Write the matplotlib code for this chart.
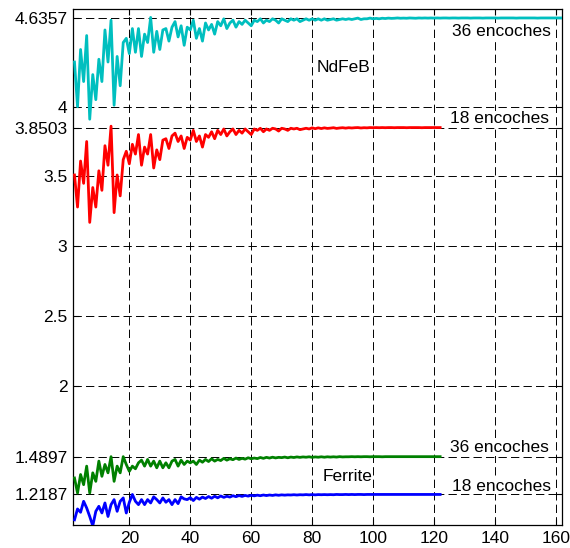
import numpy as np
import matplotlib
matplotlib.use("Agg")
import matplotlib.pyplot as plt

plt.rcParams['font.family'] = ['Liberation Sans', 'DejaVu Sans']
plt.rcParams['lines.scale_dashes'] = False

# NdFeB, 36 encoches (x = 2 .. 162)
ndfeb_36 = [
    4.32, 4.00, 4.41, 4.18, 4.51, 3.91, 4.23, 4.05, 4.34, 4.18,
    4.55, 4.32, 4.62, 4.01, 4.36, 4.15, 4.46, 4.49, 4.38, 4.56,
    4.39, 4.56, 4.36, 4.52, 4.46, 4.64, 4.39, 4.54, 4.41, 4.55,
    4.56, 4.47, 4.57, 4.61, 4.50, 4.58, 4.44, 4.57, 4.55, 4.62,
    4.49, 4.56, 4.47, 4.60, 4.55, 4.59, 4.52, 4.61, 4.58, 4.63,
    4.56, 4.60, 4.62, 4.57, 4.61, 4.59, 4.62, 4.60, 4.58, 4.62,
    4.61, 4.63, 4.60, 4.62, 4.61, 4.63, 4.62, 4.60, 4.63, 4.62,
    4.61, 4.63, 4.62, 4.63, 4.61, 4.62, 4.63, 4.62, 4.63, 4.62,
    4.63, 4.62, 4.63, 4.62, 4.625, 4.63, 4.62, 4.625, 4.63, 4.625,
    4.63, 4.625, 4.63, 4.635, 4.625, 4.63, 4.63, 4.635, 4.63, 4.633,
    4.630, 4.634, 4.632, 4.635, 4.633, 4.634, 4.636, 4.634, 4.635, 4.634,
    4.636, 4.635, 4.634, 4.636, 4.635, 4.636, 4.635, 4.636, 4.635, 4.636,
    4.635, 4.636, 4.636, 4.635, 4.636, 4.636, 4.635, 4.636, 4.636, 4.636,
    4.635, 4.636, 4.636, 4.636, 4.635, 4.636, 4.636, 4.636, 4.636, 4.635,
    4.636, 4.636, 4.636, 4.636, 4.636, 4.635, 4.636, 4.636, 4.636, 4.636,
    4.636, 4.636, 4.635, 4.636, 4.636, 4.636, 4.636, 4.636, 4.636, 4.636, 4.636,
]

# NdFeB, 18 encoches (x = 2 .. 122)
ndfeb_18 = [
    3.51, 3.28, 3.61, 3.45, 3.75, 3.17, 3.42, 3.28, 3.54, 3.40,
    3.72, 3.58, 3.86, 3.24, 3.51, 3.36, 3.62, 3.68, 3.59, 3.73,
    3.66, 3.80, 3.58, 3.71, 3.66, 3.80, 3.56, 3.69, 3.62, 3.76,
    3.77, 3.70, 3.79, 3.81, 3.75, 3.79, 3.70, 3.78, 3.76, 3.83,
    3.75, 3.79, 3.71, 3.80, 3.78, 3.82, 3.77, 3.83, 3.80, 3.84,
    3.79, 3.82, 3.84, 3.80, 3.83, 3.81, 3.84, 3.82, 3.80, 3.84,
    3.83, 3.845, 3.82, 3.84, 3.83, 3.845, 3.84, 3.825, 3.845, 3.84,
    3.83, 3.845, 3.84, 3.845, 3.835, 3.84, 3.845, 3.84, 3.848, 3.842,
    3.848, 3.843, 3.848, 3.844, 3.846, 3.849, 3.844, 3.847, 3.849, 3.846,
    3.849, 3.847, 3.849, 3.850, 3.847, 3.849, 3.848, 3.850, 3.849, 3.850,
    3.849, 3.850, 3.849, 3.850, 3.850, 3.849, 3.850, 3.850, 3.850, 3.849,
    3.850, 3.850, 3.850, 3.850, 3.849, 3.850, 3.850, 3.850, 3.850, 3.850, 3.850,
]

# Ferrite, 36 encoches (x = 2 .. 122)
ferrite_36 = [
    1.337, 1.229, 1.362, 1.289, 1.422, 1.229, 1.374, 1.313, 1.458, 1.349,
    1.434, 1.374, 1.490, 1.313, 1.422, 1.374, 1.490, 1.434, 1.385, 1.422,
    1.403, 1.446, 1.465, 1.422, 1.470, 1.422, 1.458, 1.410, 1.458, 1.410,
    1.446, 1.410, 1.458, 1.470, 1.422, 1.465, 1.434, 1.458, 1.446, 1.458,
    1.434, 1.465, 1.450, 1.470, 1.455, 1.475, 1.458, 1.470, 1.462, 1.478,
    1.465, 1.475, 1.468, 1.480, 1.470, 1.478, 1.472, 1.482, 1.475, 1.480,
    1.476, 1.484, 1.478, 1.485, 1.480, 1.486, 1.481, 1.485, 1.483, 1.487,
    1.482, 1.487, 1.484, 1.488, 1.485, 1.488, 1.486, 1.489, 1.485, 1.488,
    1.486, 1.489, 1.486, 1.489, 1.487, 1.489, 1.487, 1.490, 1.488, 1.489,
    1.489, 1.490, 1.489, 1.490, 1.489, 1.490, 1.490, 1.489, 1.490, 1.490,
    1.490, 1.489, 1.490, 1.490, 1.490, 1.490, 1.490, 1.490, 1.490, 1.490,
    1.490, 1.490, 1.490, 1.490, 1.490, 1.490, 1.490, 1.490, 1.490, 1.490, 1.490,
]

# Ferrite, 18 encoches (x = 2 .. 122)
ferrite_18 = [
    1.037, 1.115, 1.091, 1.170, 1.122, 1.061, 0.994, 1.098, 1.134, 1.086,
    1.158, 1.061, 1.146, 1.182, 1.098, 1.170, 1.194, 1.086, 1.163, 1.219,
    1.170, 1.146, 1.182, 1.146, 1.182, 1.158, 1.202, 1.182, 1.158, 1.194,
    1.163, 1.182, 1.146, 1.182, 1.153, 1.202, 1.187, 1.182, 1.196, 1.175,
    1.198, 1.185, 1.200, 1.190, 1.204, 1.192, 1.206, 1.195, 1.208, 1.198,
    1.206, 1.200, 1.210, 1.203, 1.211, 1.205, 1.212, 1.207, 1.213, 1.209,
    1.214, 1.210, 1.215, 1.211, 1.215, 1.212, 1.216, 1.213, 1.216, 1.214,
    1.216, 1.215, 1.217, 1.215, 1.217, 1.216, 1.218, 1.216, 1.218, 1.216,
    1.218, 1.217, 1.218, 1.217, 1.218, 1.217, 1.219, 1.218, 1.218, 1.219,
    1.218, 1.219, 1.218, 1.219, 1.219, 1.218, 1.219, 1.219, 1.219, 1.219,
    1.219, 1.219, 1.219, 1.219, 1.219, 1.219, 1.219, 1.219, 1.219, 1.219,
    1.219, 1.219, 1.219, 1.219, 1.219, 1.219, 1.219, 1.219, 1.219, 1.219, 1.219,
]

ytick_values = [1.2187, 1.4897, 2, 2.5, 3, 3.5, 3.8503, 4, 4.6357]
ytick_labels = ['1.2187', '1.4897', '2', '2.5', '3', '3.5', '3.8503', '4', '4.6357']
xtick_values = [20, 40, 60, 80, 100, 120, 140, 160]

fig = plt.figure(figsize=(5.70, 5.48), dpi=100)
ax = fig.add_axes([0.128, 0.042, 0.858, 0.9415])

series = [
    (ndfeb_36, '#00BFBF'),
    (ndfeb_18, '#FF0000'),
    (ferrite_36, '#008000'),
    (ferrite_18, '#0000FF'),
]
for vals, col in series:
    x = np.arange(2, 2 + len(vals))
    ax.plot(x, vals, color=col, linewidth=2.0, zorder=3)

ax.set_xlim(1.5, 162)
ax.set_ylim(1.0, 4.7)
ax.set_xticks(xtick_values)
ax.set_yticks(ytick_values)
ax.set_yticklabels(ytick_labels)
ax.tick_params(direction='in', top=True, right=True, length=4, width=0.8,
               labelsize=12.5, pad=4)
ax.grid(True, color='k', linestyle=(0, (6, 3)), linewidth=0.7)
ax.set_axisbelow(True)
for s in ax.spines.values():
    s.set_linewidth(0.9)

# labels with white boxes, like the original
box = dict(facecolor='white', edgecolor='none', pad=0.5)
ax.text(125.8, 4.54, '36 encoches', fontsize=12.5, va='center', bbox=box, zorder=4)
ax.text(81.5, 4.28, 'NdFeB', fontsize=12.5, va='center', bbox=box, zorder=4)
ax.text(125.3, 3.913, '18 encoches', fontsize=12.5, va='center', bbox=box, zorder=4)
ax.text(125.1, 1.555, '36 encoches', fontsize=12.5, va='center', bbox=box, zorder=4)
ax.text(83.5, 1.349, 'Ferrite', fontsize=12.5, va='center', bbox=box, zorder=4)
ax.text(125.8, 1.279, '18 encoches', fontsize=12.5, va='center', bbox=box, zorder=4)

fig.savefig('out.png', dpi=100)
